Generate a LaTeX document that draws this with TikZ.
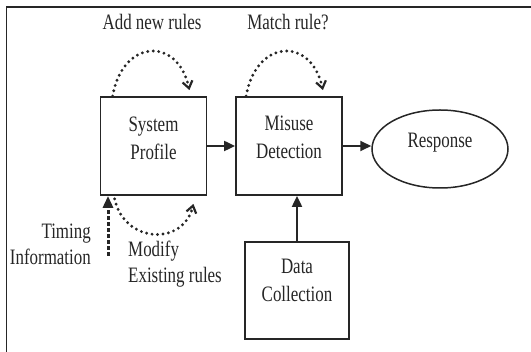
\documentclass[tikz,border=0pt]{standalone}
\usepackage{fontspec}
\setmainfont{Liberation Serif}[FakeStretch=0.77]
\usetikzlibrary{positioning, arrows.meta, shapes.geometric, calc}
\definecolor{ink}{HTML}{262626}

\begin{document}
\begin{tikzpicture}[
        x=1pt, y=-1pt,
        font=\fontsize{22}{26}\selectfont,
        box/.style={draw=ink, line width=1.8pt, minimum width=106pt, minimum height=98pt, inner sep=0pt},
        bubble/.style={draw=ink, ellipse, line width=1.5pt, minimum width=136pt, minimum height=78pt, inner sep=0pt},
        inbox/.style={align=center, text=ink, font=\fontsize{22}{28}\selectfont},
        note/.style={text=ink, inner sep=0pt},
        arrow/.style={-{Triangle[length=11pt, width=10pt]}, line width=2pt, draw=ink},
        dotloop/.style={-{Straight Barb[length=7pt, width=10pt, line width=2.2pt]}, line width=3.2pt, line cap=round, dash pattern=on 0pt off 5.5pt, draw=ink},
        dashed_arrow/.style={-{Triangle[length=12pt, width=10pt]}, line width=3pt, dash pattern=on 3.5pt off 2.5pt, draw=ink}
    ]
    \useasboundingbox (0,0) rectangle (531,352);
    \draw[ink, line width=1.8pt] (531,7) -- (6.5,7) -- (6.5,352);

    \node[box, label={[inbox, yshift=8pt]center:{System\\Profile}}] (sp) at (153.5,146) {};
    \node[box, label={[inbox, yshift=9pt]center:{Misuse\\Detection}}] (md) at (289,146) {};
    \node[bubble, label={[inbox, yshift=6pt]center:{Response}}] (resp) at (440,149) {};
    \node[box, minimum width=104pt, minimum height=97pt, label={[inbox, yshift=10pt]center:{Data\\Collection}}] (data) at (297,290.5) {};

    \node[note] (addrules) at (152,22) {Add new rules};
    \node[note] (matchrule) at (288,22) {Match rule?};
    \node[note, align=right, anchor=east] (timing) at (91,244) {Timing\\Information};
    \node[note, align=left, anchor=west] (modify) at (128,264) {Modify\\Existing rules};

    \coordinate (tstart) at (108,256);

    \draw[arrow] (sp.east) -- (md.west);
    \draw[arrow] (md.east) -- (md.east -| resp.west);
    \draw[arrow] (data.north) -- (data.north |- md.south);
    \draw[dashed_arrow] (tstart) -- (tstart |- sp.south);

    % rule loops
    \draw[dotloop] ([xshift=13pt]sp.north west) .. controls +(10,-57) and +(-12,-54) .. ([xshift=-18pt,yshift=6pt]sp.north east);
    \draw[dotloop] ([xshift=11pt]md.north west) .. controls +(10,-57) and +(-12,-54) .. ([xshift=-20pt,yshift=6pt]md.north east);
    \draw[dotloop] ([xshift=15pt,yshift=-3pt]sp.south west) .. controls +(10,45) and +(-10,42) .. ([xshift=-14pt,yshift=-8pt]sp.south east);
\end{tikzpicture}
\end{document}
